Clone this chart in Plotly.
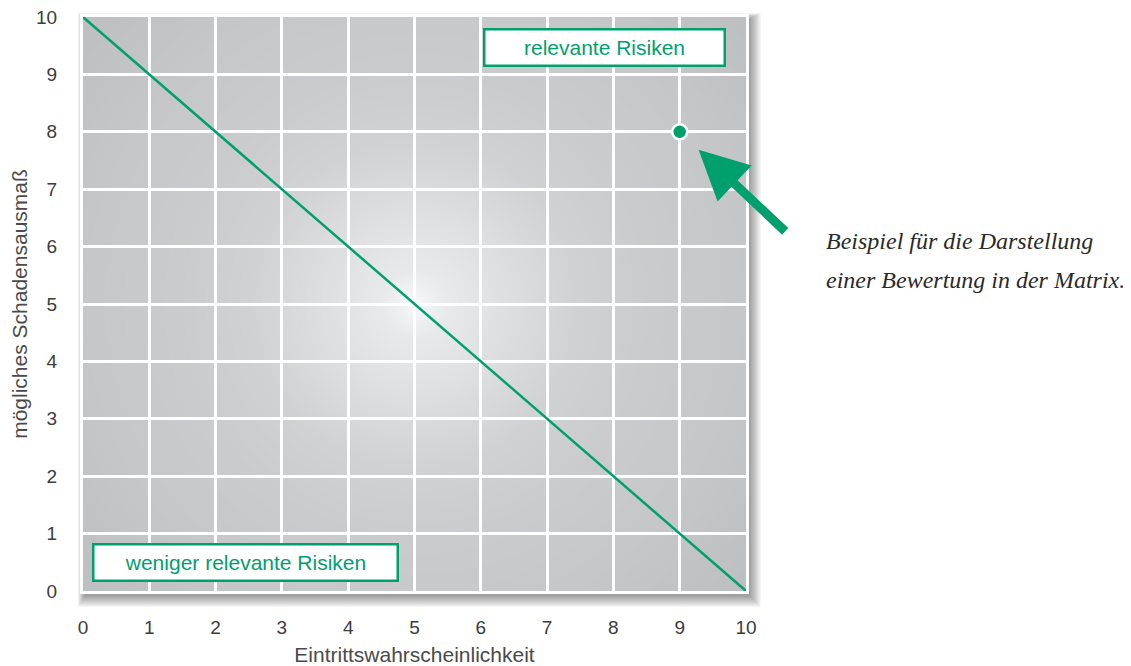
import base64, struct, zlib
import numpy as np
import plotly.graph_objects as go

# ---- data ----
tick_vals = list(range(0, 11))
line_x = [0, 10]
line_y = [10, 0]
point_x = [9]
point_y = [8]
x_title = "Eintrittswahrscheinlichkeit"
y_title = "mögliches Schadensausmaß"
label_high = "relevante Risiken"
label_low = "weniger relevante Risiken"
note_lines = ["Beispiel für die Darstellung", "einer Bewertung in der Matrix."]

GREEN = "#00a06e"

# ---- radial gradient background image ----
W, H = 332, 287
yy, xx = np.mgrid[0:H, 0:W]
r = np.hypot((xx - W / 2 + 0.5) * 2, (yy - H / 2 + 0.5) * 2)  # in full-res pixels
stops_r = [0, 33, 100, 165, 232, 331, 437]
stops_v = [247, 233, 221, 209, 203, 198, 190]
v = np.interp(r, stops_r, stops_v)
img = np.stack([v, v + 1, v + 3], axis=-1).clip(0, 255).astype(np.uint8)


def png_uri(arr):
    h, w, _ = arr.shape
    raw = b"".join(b"\x00" + arr[i].tobytes() for i in range(h))

    def chunk(t, d):
        c = struct.pack(">I", len(d)) + t + d
        return c + struct.pack(">I", zlib.crc32(t + d) & 0xFFFFFFFF)

    png = (b"\x89PNG\r\n\x1a\n"
           + chunk(b"IHDR", struct.pack(">IIBBBBB", w, h, 8, 2, 0, 0, 0))
           + chunk(b"IDAT", zlib.compress(raw, 9))
           + chunk(b"IEND", b""))
    return "data:image/png;base64," + base64.b64encode(png).decode()


fig = go.Figure()
fig.add_trace(go.Scatter(x=line_x, y=line_y, mode="lines",
                         line=dict(color=GREEN, width=2.5), hoverinfo="skip",
                         cliponaxis=False))
fig.add_trace(go.Scatter(x=point_x, y=point_y, mode="markers",
                         marker=dict(color=GREEN, size=15, line=dict(color="white", width=2.5)),
                         cliponaxis=False))

fig.add_layout_image(dict(source=png_uri(img), xref="x", yref="y", x=0, y=10,
                          sizex=10, sizey=10, sizing="stretch", layer="below"))

# drop shadow (paper coords)
px = 1 / 663
py = 1 / 574
shapes = []
for i in range(12, 0, -1):
    shapes.append(dict(type="rect", xref="paper", yref="paper", layer="below",
                       x0=-i * px * 0.6 + 2 * px, x1=1 + i * px + 3 * px,
                       y0=-i * py - 4 * py, y1=1 + i * py * 0.5 - 2 * py,
                       line=dict(width=0), fillcolor="rgba(0,0,0,0.035)"))
fig.update_layout(shapes=shapes)

axis_common = dict(range=[0, 10], tickvals=tick_vals, showgrid=True, gridcolor="white",
                   gridwidth=3, zeroline=True, zerolinecolor="white", zerolinewidth=3,
                   showline=True, linecolor="white", linewidth=3, mirror=True,
                   ticks="outside", tickcolor="rgba(0,0,0,0)", ticklabeloverflow="allow",
                   tickfont=dict(family="Liberation Sans, Arial, sans-serif", size=19, color="#3c3c3c"),
                   fixedrange=True, automargin=False)
title_font = dict(family="Liberation Sans, Arial, sans-serif", size=21, color="#4a4a4a")
fig.update_xaxes(**axis_common, ticklen=17, title=dict(text=x_title, standoff=15, font=title_font))
fig.update_yaxes(**axis_common, ticklen=19, title=dict(text=y_title, standoff=18, font=title_font))

box_font = dict(family="Liberation Sans, Arial, sans-serif", size=21, color=GREEN)
fig.add_annotation(x=7.873, y=9.469, xref="x", yref="y", text=label_high, showarrow=False,
                   font=box_font, bgcolor="white", bordercolor=GREEN, borderwidth=2.5,
                   borderpad=3, width=232, height=28)
fig.add_annotation(x=2.45, y=0.505, xref="x", yref="y", text=label_low, showarrow=False,
                   font=box_font, bgcolor="white", bordercolor=GREEN, borderwidth=2.5,
                   borderpad=3, width=296, height=28)

# arrow pointing to the example point
fig.add_annotation(x=point_x[0], y=point_y[0], xref="x", yref="y", text="",
                   showarrow=True, ax=107, ay=101, arrowhead=2, arrowsize=1.1,
                   arrowwidth=9, arrowcolor=GREEN, standoff=26)

note_font = dict(family="Liberation Serif, Times New Roman, serif", size=24, color="#2a2a2a")
for i, (txt, yp) in enumerate(zip(note_lines, [0.6098, 0.5418])):
    fig.add_annotation(x=1.1176, y=yp, xref="paper", yref="paper", text=f"<i>{txt}</i>",
                       showarrow=False, xanchor="left", yanchor="middle", font=note_font)

# page body has an 8px margin: shrink the figure so it fits the 1131x666 window
fig.update_layout(width=1123, height=658, autosize=False,
                  margin=dict(l=75, r=385, t=9, b=75, autoexpand=False),
                  paper_bgcolor="white", plot_bgcolor="rgba(0,0,0,0)",
                  showlegend=False)

fig.write_html("out.html")
